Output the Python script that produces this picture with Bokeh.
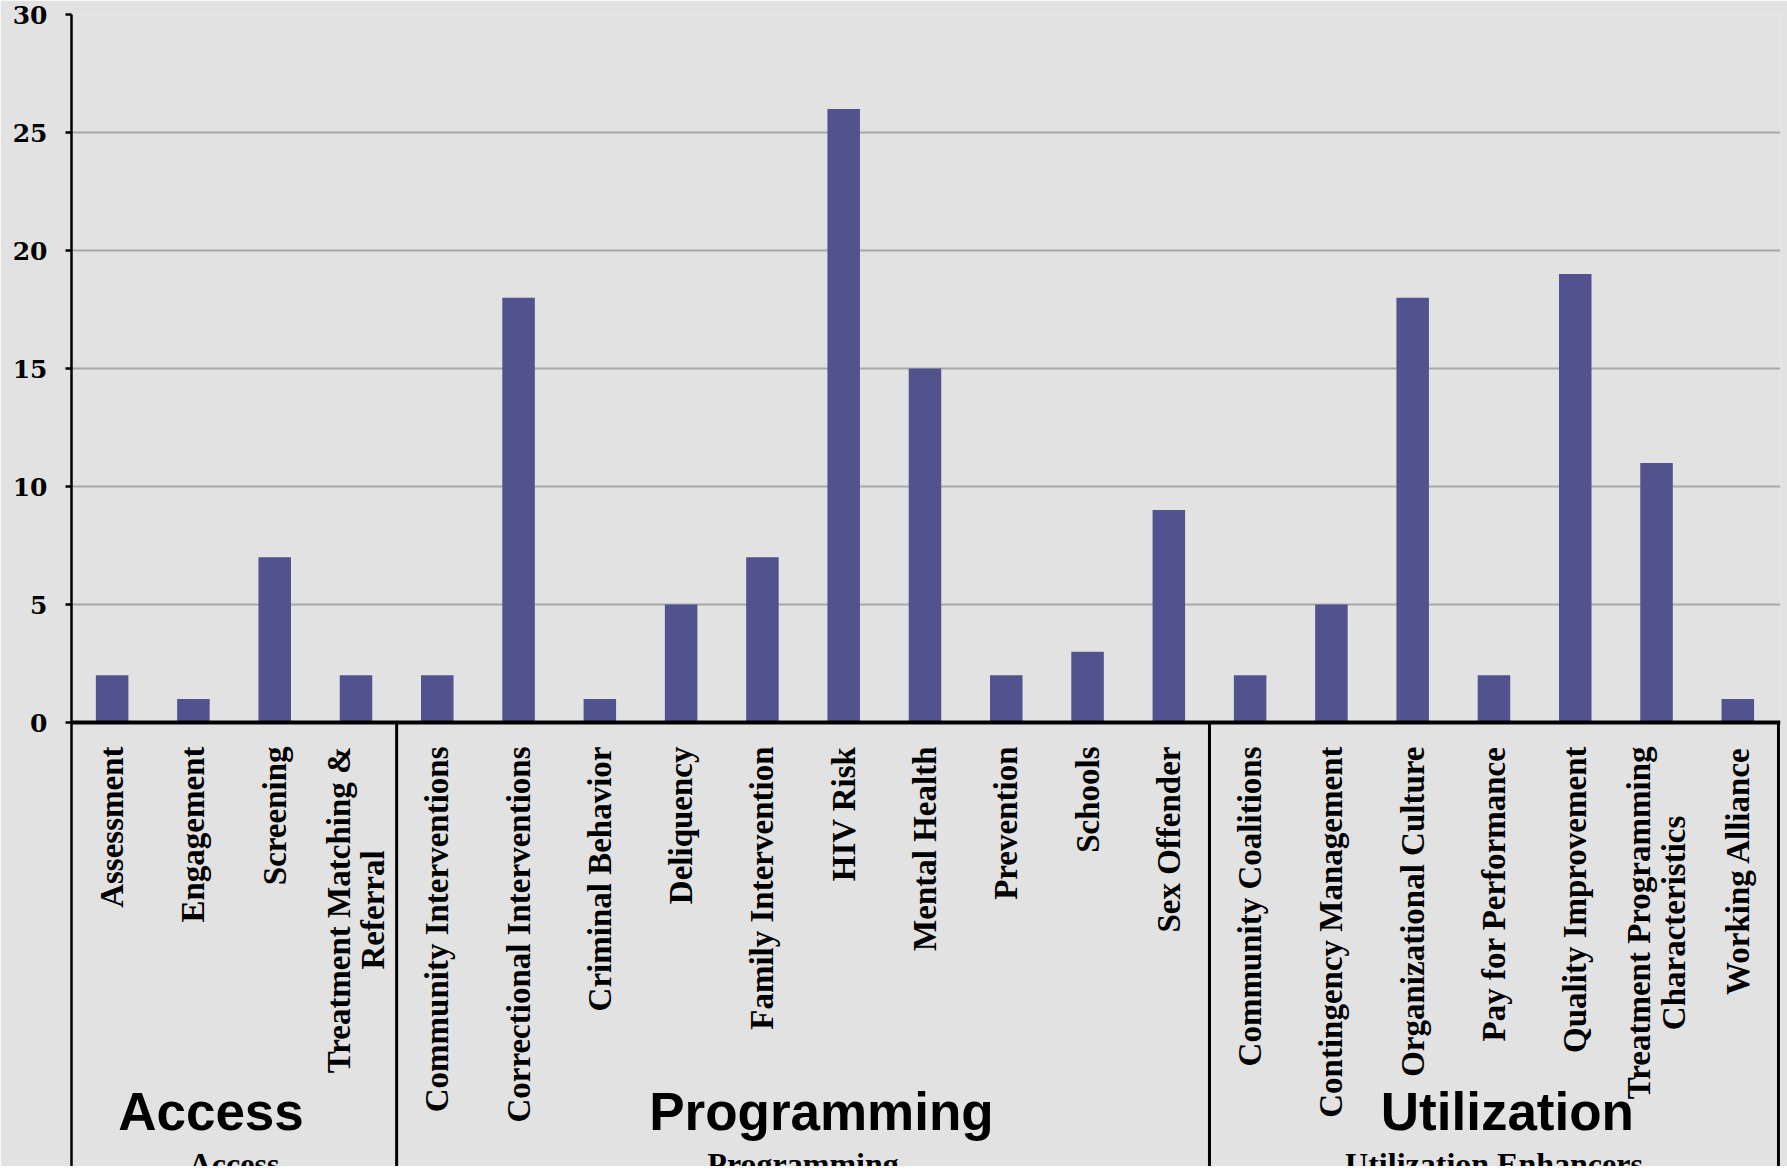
from bokeh.plotting import figure
from bokeh.models import Range1d, FixedTicker, Span
from bokeh.core.properties import value
from bokeh.embed import file_html
from bokeh.resources import INLINE
import numpy as np

# ---- data ----
groups = ["Access", "Programming", "Utilization Enhancers"]
group_titles = ["Access", "Programming", "Utilization"]
access_cats = ["Assessment", "Engagement", "Screening", "Treatment Matching &\nReferral"]
access_vals = [2, 1, 7, 2]
programming_cats = ["Community Interventions", "Correctional Interventions", "Criminal Behavior",
                    "Deliquency", "Family Intervention", "HIV Risk", "Mental Health",
                    "Prevention", "Schools", "Sex Offender"]
programming_vals = [2, 18, 1, 5, 7, 26, 15, 2, 3, 9]
utilization_cats = ["Community Coalitions", "Contingency Management", "Organizational Culture",
                    "Pay for Performance", "Quality Improvement",
                    "Treatment Programming\nCharacteristics", "Working Alliance"]
utilization_vals = [2, 5, 18, 2, 19, 11, 1]
y_ticks = [0, 5, 10, 15, 20, 25, 30]

cats = access_cats + programming_cats + utilization_cats
vals = access_vals + programming_vals + utilization_vals
group_sizes = [len(access_cats), len(programming_cats), len(utilization_cats)]
n = len(cats)
xpos = np.arange(n) + 0.5
bounds = [0] + [int(b) for b in np.cumsum(group_sizes)]
group_centers = [(bounds[i] + bounds[i + 1]) / 2.0 for i in range(len(groups))]

# ---- layout constants (pixels) ----
BG = "#e2e2e2"
W, H = 1787, 1166
TOP = 14                 # frame top in canvas px
ZERO = 722               # canvas y of value 0
PX_PER_UNIT = (ZERO - TOP) / 30.0
Y_MIN = -(H - ZERO) / PX_PER_UNIT
title_x = [1.716, 9.226, 17.665]   # overlay title centres (in category units)

p = figure(width=W, height=H, output_backend="svg", toolbar_location=None,
           x_range=Range1d(0, n + 0.025), y_range=Range1d(Y_MIN, 30),
           x_axis_location=None,
           min_border_left=71, min_border_right=7, min_border_top=TOP, min_border_bottom=0)
p.background_fill_color = BG
p.border_fill_color = BG
p.outline_line_color = None

# grid
p.xgrid.grid_line_color = None
p.ygrid.ticker = FixedTicker(ticks=y_ticks[1:])
p.ygrid.grid_line_color = "#a8a8a8"
p.ygrid.grid_line_width = 2

# bars
p.vbar(x=xpos, top=vals, width=0.4, fill_color="#52528f", line_color=None)

# y axis
ya = p.yaxis[0]
ya.ticker = FixedTicker(ticks=y_ticks)
ya.axis_line_color = "black"
ya.axis_line_width = 2.5
ya.major_tick_line_color = "black"
ya.major_tick_line_width = 2.5
ya.major_tick_in = 0
ya.major_tick_out = 6
ya.minor_tick_line_color = None
ya.major_label_text_font = "DejaVu Serif"
ya.major_label_text_font_style = "bold"
ya.major_label_text_font_size = "25px"
ya.major_label_text_color = "black"
ya.major_label_standoff = 18

# category axis line at 0 and group dividers
p.add_layout(Span(location=0, dimension="width", line_color="black", line_width=4))
p.segment(x0=bounds[1:], y0=0, x1=bounds[1:], y1=Y_MIN, line_color="black", line_width=3)

# category labels
p.text(x=xpos, y=[0] * n, text=cats, angle=np.pi / 2, anchor="center_right",
       text_align="center", text_baseline="middle", y_offset=24,
       text_font=value("Liberation Serif"), text_font_style="bold",
       text_font_size=value("33px"), text_color="black", text_line_height=0.95)

# original group labels (cut at the bottom edge, as in the source)
p.text(x=group_centers, y=[0] * len(groups), text=groups, y_offset=423,
       text_align="center", text_baseline="top",
       text_font=value("Liberation Serif"), text_font_style="bold",
       text_font_size=value("32px"), text_color="black")

# big overlay titles
p.text(x=title_x, y=[0] * len(group_titles), text=group_titles, y_offset=389,
       text_align="center", text_baseline="alphabetic",
       text_font=value("Liberation Sans"), text_font_style="bold",
       text_font_size=value("53px"), text_color="black")

html = file_html(p, INLINE)
html = html.replace("<body>", '<body style="background-color:#e8e8e8;">', 1)
open("out.html", "w").write(html)
